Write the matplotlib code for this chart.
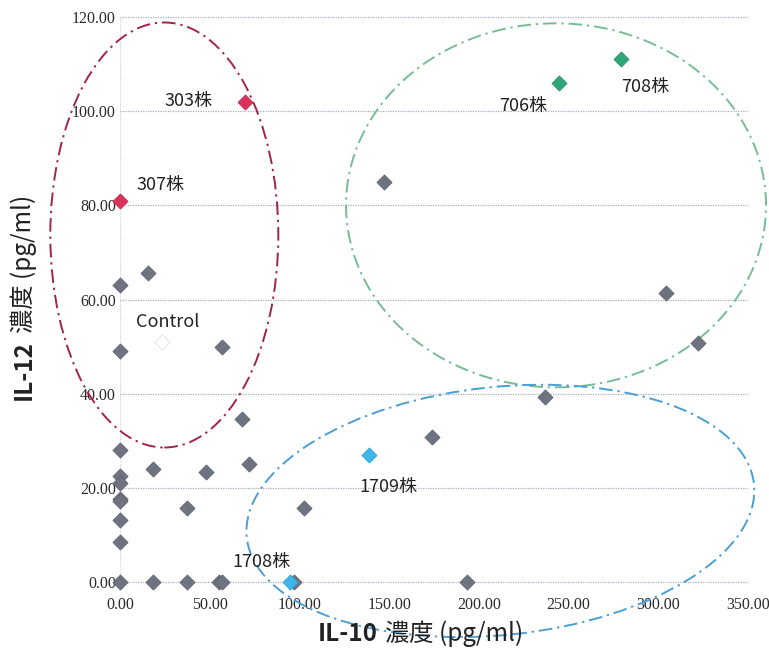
import matplotlib
matplotlib.use("Agg")
import matplotlib.pyplot as plt
from matplotlib.patches import Ellipse
from matplotlib.transforms import ScaledTranslation

# ---- data ----
grey_x = [0, 15.7, 147, 57, 0, 68, 0, 18.5, 48, 72, 0, 0, 0, 0, 0, 0, 37.6, 102.6,
          0, 18.5, 37.6, 55, 57, 97, 174, 237, 193.5, 304.5, 322]
grey_y = [63, 65.6, 85, 50, 49, 34.6, 28, 24, 23.4, 25, 22.5, 21, 17.6, 17.2, 13.2, 8.5, 15.7, 15.7,
          0, 0, 0, 0, 0, 0, 30.8, 39.3, 0, 61.4, 50.7]
red_x = [69.5, 0]
red_y = [102, 81]
green_x = [244.5, 279]
green_y = [106, 111]
blue_x = [138.5, 95]
blue_y = [27, 0]
control_x = [23.5]
control_y = [51]

labels = ["303株", "307株", "Control", "706株", "708株", "1709株", "1708株"]
label_x = [25, 9, 9, 211.4, 279.3, 133.5, 62.8]
label_y = [102.2, 84.3, 55.2, 101.1, 105.1, 20.2, 4.2]

x_ticks = [0, 50, 100, 150, 200, 250, 300, 350]
y_ticks = [0, 20, 40, 60, 80, 100, 120]

# ellipses: centre (data), width/height (inches), angle, colour
ell_cx = [24.7, 243, 212]
ell_cy = [73.7, 80, 15.1]
ell_w = [2.28, 4.20, 5.10]
ell_h = [4.25, 3.64, 2.48]
ell_ang = [0, 0, 6]
ell_col = ["#a3234d", "#76bd95", "#4c9fd2"]

cjk = ["Noto Sans CJK JP", "DejaVu Sans"]

fig = plt.figure(figsize=(7.69, 6.54), dpi=100)
ax = fig.add_axes([120/769, 1-582/654, (748-120)/769, (582-17)/654])
ax.set_xlim(0, 350)
ax.set_ylim(0, 120)

for s in ax.spines.values():
    s.set_visible(False)
ax.tick_params(axis="y", length=0, pad=3)
ax.tick_params(axis="x", length=0, pad=11)
ax.set_xticks(x_ticks)
ax.set_yticks(y_ticks)
ax.set_xticklabels([f"{v:.2f}" for v in x_ticks], family="Liberation Serif", fontsize=11.5, color="#2a2a2a")
ax.set_yticklabels([f"{v:.2f}" for v in y_ticks], family="Liberation Serif", fontsize=11.5, color="#2a2a2a")
ax.yaxis.grid(True, linestyle=(0, (1, 1)), color="#a3afc2", linewidth=0.9)
for gl in ax.get_ygridlines():
    gl.set_clip_on(False)
ax.axvline(0, color="#cdd2da", linewidth=0.9, linestyle=(0, (1, 1)), zorder=1)

mk = dict(marker="D", s=60, linewidths=0.5, zorder=3, clip_on=False)
ax.scatter(grey_x, grey_y, color="#6e7380", edgecolors="#5c606b", **mk)
ax.scatter(red_x, red_y, color="#d9325b", edgecolors="#c02a4f", **mk)
ax.scatter(green_x, green_y, color="#2fa57c", edgecolors="#25906a", **mk)
ax.scatter(blue_x, blue_y, color="#3fb5ea", edgecolors="#2fa2d6", **mk)
ax.scatter(control_x, control_y, color="white", edgecolors="#dddddd", **mk)

for t, x, y in zip(labels, label_x, label_y):
    ax.text(x, y, t, family=cjk, fontsize=13, ha="left", va="center", color="#222222", zorder=4)

for cx, cy, w, h, a, c in zip(ell_cx, ell_cy, ell_w, ell_h, ell_ang, ell_col):
    tr = fig.dpi_scale_trans + ScaledTranslation(cx, cy, ax.transData)
    e = Ellipse((0, 0), w, h, angle=a, transform=tr, fill=False, edgecolor=c,
                linewidth=1.4, linestyle=(0, (7, 2.5, 1.2, 2.5)), clip_on=False, zorder=2)
    ax.add_patch(e)

# axis titles: bold "IL-xx" followed by regular text
fig.canvas.draw()
r = fig.canvas.get_renderer()
t1 = fig.text(318/769, 1-634/654, "IL-10", family=cjk, fontsize=17.5, fontweight="bold",
              ha="left", va="center", color="#222222")
bb = t1.get_window_extent(r)
fig.text((bb.x1 + 7)/769, 1-634/654, "濃度 (pg/ml)", family=cjk, fontsize=17.5,
         ha="left", va="center", color="#222222")

t2 = fig.text(24/769, 1-400/654, "IL-12", family=cjk, fontsize=17.5, fontweight="bold",
              ha="center", va="bottom", rotation=90, color="#222222")
bb2 = t2.get_window_extent(r)
fig.text(24/769, (bb2.y1 + 7)/654, "濃度 (pg/ml)", family=cjk, fontsize=17.5,
         ha="center", va="bottom", rotation=90, color="#222222")

fig.savefig("out.png", dpi=100)
